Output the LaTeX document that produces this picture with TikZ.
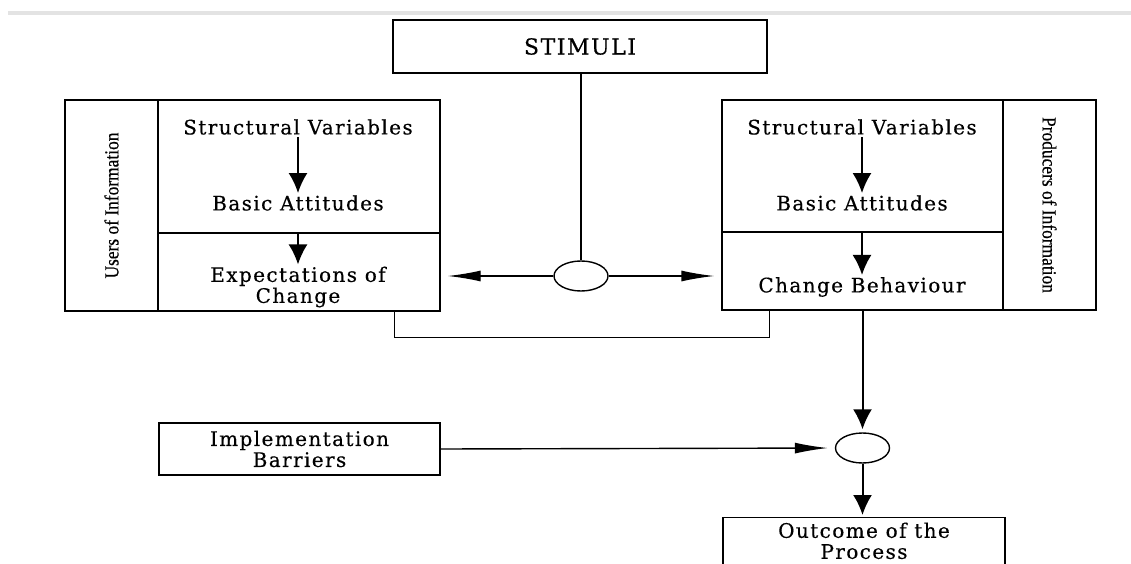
\documentclass[tikz,border=0pt]{standalone}
\usepackage{fontspec}
\usepackage{tikz}
\usetikzlibrary{arrows.meta, shapes.geometric}
\newfontfamily\boxfont[LetterSpace=7, FakeBold=0.4]{DejaVu Serif}
\newfontfamily\sidefont[FakeBold=0.4, FakeStretch=0.87]{Liberation Serif}

\begin{document}
\begin{tikzpicture}[
  x=1pt, y=-1pt,
  panel/.style={draw, line width=1.4pt, inner sep=0pt},
  txt/.style={inner sep=2pt, align=center,
    font=\boxfont\fontsize{20}{21}\selectfont},
  side/.style={inner sep=0pt, font=\sidefont\fontsize{20}{22}\selectfont},
  junc/.style={draw, ellipse, line width=1.4pt, minimum width=54pt,
    minimum height=30pt, inner sep=0pt},
  arr/.style={-{Latex[length=20pt,width=19pt]}, line width=2pt},
  harr/.style={-{Latex[length=33pt,width=11pt]}, line width=1.4pt},
  plain/.style={line width=1.5pt}
]
  \useasboundingbox (0,0) rectangle (1131,564);
  \clip (0,0) rectangle (1131,564);
  \draw[gray!22, line width=3.5pt] (8,13) -- (1131,13);

  % top
  \node[panel, minimum width=374pt, minimum height=53pt, txt,
    font=\boxfont\fontsize{22}{23}\selectfont] (stim) at (580,46.5) {STIMULI};

  % users of information
  \node[panel, minimum width=93pt, minimum height=211pt] (usersL) at (111.5,205.5) {};
  \node[panel, minimum width=282pt, minimum height=133pt] (upL) at (299,166.5) {};
  \node[panel, minimum width=282pt, minimum height=78pt] (lowL) at (299,272) {};
  \node[side, rotate=90] (usersLbl) at (usersL.center) {Users of Information};
  \node[txt] (svL) at (298,127) {Structural Variables};
  \node[txt] (baL) at (298,203) {Basic Attitudes};
  \node[txt] (exL) at (298,287) {Expectations of\\Change};

  % producers of information
  \node[panel, minimum width=281pt, minimum height=132pt] (upR) at (862.5,166) {};
  \node[panel, minimum width=281pt, minimum height=78pt] (lowR) at (862.5,271) {};
  \node[panel, minimum width=93pt, minimum height=210pt] (prodR) at (1049.5,205) {};
  \node[side, rotate=-90] (prodLbl) at (prodR.center) {Producers of Information};
  \node[txt] (svR) at (862,127) {Structural Variables};
  \node[txt] (baR) at (862,203) {Basic Attitudes};
  \node[txt] (cbR) at (862,287) {Change Behaviour};

  % junctions and bottom row
  \node[junc] (c1) at (581,276) {};
  \node[junc] (c2) at (862.5,448) {};
  \node[panel, minimum width=281pt, minimum height=52pt, txt] (impl) at (299.5,449) {Implementation\\Barriers};
  \node[panel, anchor=north, minimum width=282pt, minimum height=70pt, txt,
    text depth=24pt] (outc) at (864,517) {Outcome of the\\Process};

  \draw[arr] (svL) -- (baL);
  \draw[arr] (lowL.north -| baL) -- (exL);
  \draw[arr] (svR) -- (baR);
  \draw[arr] (lowR.north -| baR) -- (cbR.north);

  \draw[plain, line width=2pt] (stim.south -| c1) -- (c1.north);
  \draw[harr, shorten >=7pt] (c1.west) -- (c1.west -| lowL.east);
  \draw[harr, shorten >=7pt] (c1.east) -- (c1.east -| lowR.west);
  \draw[plain] ([xshift=-46pt]lowL.south east) -- ++(0,26) -| ([xshift=48pt]lowR.south west);

  \draw[arr, shorten >=3pt] (lowR.south) -- (c2.north);
  \draw[harr, shorten >=7pt] (impl.east) -- (c2.west);
  \draw[arr, shorten >=2pt] (c2.south) -- (c2.south |- outc.north);
\end{tikzpicture}
\end{document}
